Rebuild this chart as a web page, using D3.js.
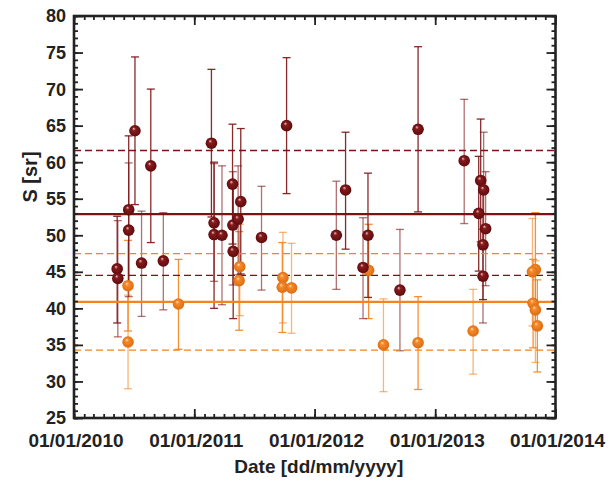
<!DOCTYPE html>
<html>
<head>
<meta charset="utf-8">
<script src="https://cdn.jsdelivr.net/npm/d3@7/dist/d3.min.js"></script>
<style>
html,body{margin:0;padding:0;background:#fff;}
svg{display:block;font-family:"Liberation Sans",Arial,sans-serif;}
</style>
</head>
<body>
<svg id="chart" width="615" height="486"></svg>
<script>
// ---- data ----
const redDates = ["2010-05-12","2010-05-14","2010-06-16","2010-06-16","2010-07-05","2010-07-25","2010-08-22","2010-09-29",
  "2011-02-22","2011-03-02","2011-03-02","2011-03-26","2011-04-27","2011-04-28","2011-04-29","2011-05-14","2011-05-22","2011-07-24",
  "2011-10-08","2012-03-07","2012-04-04","2012-05-27","2012-06-11","2012-09-16","2012-11-10",
  "2013-03-30","2013-05-19","2013-05-28","2013-05-13","2013-06-03","2013-05-26","2013-05-26"];
const redValues = [45.4,44.1,53.5,50.7,64.3,46.2,59.5,46.5,
  62.6,51.7,50.1,50.0,57.0,51.4,47.8,52.2,54.6,49.7,
  65.0,50.0,56.2,45.6,50.0,42.5,64.5,
  60.2,57.5,56.2,53.0,50.9,48.7,44.4];
const redLow = [38.0,36.1,43.3,41.6,54.2,38.9,49.0,39.8,
  52.5,43.7,40.0,40.5,48.8,43.2,38.6,44.6,44.7,42.5,
  55.7,42.6,48.1,38.6,41.5,34.2,53.2,
  51.6,49.1,48.3,45.1,43.1,41.2,38.0];
const redHigh = [52.6,52.0,63.6,59.9,74.4,53.3,70.0,53.1,
  72.7,59.8,60.0,59.5,65.2,58.7,57.0,59.5,64.6,56.7,
  74.3,57.4,64.1,52.4,58.5,50.8,75.8,
  68.6,65.9,64.1,60.8,58.7,56.2,50.8];

const orangeDates = ["2010-06-14","2010-06-14","2010-11-14","2011-05-19","2011-05-17","2011-09-27","2011-09-25","2011-10-23",
  "2012-06-13","2012-07-28","2012-11-10","2013-04-26","2013-11-01","2013-10-23","2013-10-25","2013-11-01","2013-11-07"];
const orangeValues = [43.1,35.4,40.6,45.7,43.8,44.2,42.9,42.8,45.2,35.0,35.3,36.9,45.3,45.0,40.7,39.8,37.6];
const orangeLow = [36.9,29.0,34.4,39.0,37.0,38.0,36.7,36.6,38.6,28.6,28.9,31.0,37.5,37.6,34.6,32.6,31.3];
const orangeHigh = [49.3,41.8,46.7,51.5,50.5,50.4,49.0,48.9,51.5,41.3,41.6,42.6,53.1,52.3,46.7,46.5,43.9];

const redMean = 52.9, redBand = [44.5, 61.6];
const orangeMean = 40.9, orangeBand = [34.3, 47.5];

const xTickDates = ["2010-01-01","2011-01-01","2012-01-01","2013-01-01","2014-01-01"];
const xTickLabels = ["01/01/2010","01/01/2011","01/01/2012","01/01/2013","01/01/2014"];
const yTicks = [25,30,35,40,45,50,55,60,65,70,75,80];

const xTitle = "Date [dd/mm/yyyy]";
const yTitle = "S [sr]";

(function(){
// ---- layout ----
const W = 615, H = 486;
const m = {left:74, right:59.5, top:16, bottom:68};
const svg = d3.select("#chart");
const parse = d3.timeParse("%Y-%m-%d");

const x = d3.scaleTime().domain([parse("2010-01-01"), parse("2014-01-01")]).range([m.left, W - m.right]);
const y = d3.scaleLinear().domain([25, 80]).range([H - m.bottom, m.top]);

const RED = "#7b1214", ORANGE = "#f5841f";

const defs = svg.append("defs");
function sphereGrad(id, light, base, dark){
  const g = defs.append("radialGradient").attr("id", id)
    .attr("cx","50%").attr("cy","50%").attr("r","55%").attr("fx","38%").attr("fy","30%");
  g.append("stop").attr("offset","0%").attr("stop-color", light);
  g.append("stop").attr("offset","28%").attr("stop-color", base);
  g.append("stop").attr("offset","100%").attr("stop-color", dark);
}
sphereGrad("gRed", "#e8c4c4", "#861a1c", "#5a0a0c");
sphereGrad("gOrange", "#ffe0b8", "#f7892a", "#d86a10");

const plot = svg.append("g");

function rows(dates, vals, lo, hi){
  return dates.map((d,i)=>({d:parse(d), v:vals[i], lo:lo[i], hi:hi[i]}));
}
const redData = rows(redDates, redValues, redLow, redHigh);
const orangeData = rows(orangeDates, orangeValues, orangeLow, orangeHigh);

function errorBars(data, color, cls){
  const g = plot.append("g").attr("class", cls).attr("stroke", color).attr("stroke-width", 1.3).attr("fill","none");
  const cap = 4;
  data.forEach((p,i)=>{
    const op = (i % 2 === 0) ? 0.9 : 0.6;
    const gg = g.append("g").attr("stroke-opacity", op);
    gg.append("line").attr("x1", x(p.d)).attr("x2", x(p.d)).attr("y1", y(p.lo)).attr("y2", y(p.hi));
    gg.append("line").attr("x1", x(p.d)-cap).attr("x2", x(p.d)+cap).attr("y1", y(p.lo)).attr("y2", y(p.lo));
    gg.append("line").attr("x1", x(p.d)-cap).attr("x2", x(p.d)+cap).attr("y1", y(p.hi)).attr("y2", y(p.hi));
  });
}
function hline(v, color, width, dash){
  plot.append("line").attr("x1", m.left).attr("x2", W - m.right)
    .attr("y1", y(v)).attr("y2", y(v)).attr("stroke", color).attr("stroke-width", width)
    .attr("stroke-dasharray", dash || null);
}
function points(data, grad){
  plot.append("g").selectAll("circle").data(data).join("circle")
    .attr("cx", d=>x(d.d)).attr("cy", d=>y(d.v)).attr("r", 5.8)
    .attr("fill", `url(#${grad})`);
}

errorBars(orangeData, ORANGE, "eo");
errorBars(redData, RED, "er");

hline(orangeBand[0], ORANGE, 1.3, "7,4");
hline(orangeBand[1], ORANGE, 1.3, "7,4");
hline(redBand[0], RED, 1.3, "7,4");
hline(redBand[1], RED, 1.3, "7,4");
hline(orangeMean, ORANGE, 2.2);
hline(redMean, RED, 2.2);

points(orangeData, "gOrange");
points(redData, "gRed");

// ---- axes (ticks inward on all sides) ----
const majorX = xTickDates.map(parse);
const minorX = x.ticks(d3.timeMonth.every(1));
const minorY = d3.range(25, 81, 1);
const axisCol = "#222";

function styleAxis(g){
  g.select(".domain").remove();
  g.selectAll(".tick line").attr("stroke", axisCol).attr("stroke-width", 1.8);
  g.selectAll("text").remove();
}
const pTop = m.top, pBottom = H - m.bottom, pLeft = m.left, pRight = W - m.right;

svg.append("g").attr("transform",`translate(0,${pBottom})`)
  .call(d3.axisBottom(x).tickValues(minorX).tickSize(-4)).call(styleAxis);
svg.append("g").attr("transform",`translate(0,${pBottom})`)
  .call(d3.axisBottom(x).tickValues(majorX).tickSize(-9)).call(styleAxis);
svg.append("g").attr("transform",`translate(0,${pTop})`)
  .call(d3.axisTop(x).tickValues(minorX).tickSize(-4)).call(styleAxis);
svg.append("g").attr("transform",`translate(0,${pTop})`)
  .call(d3.axisTop(x).tickValues(majorX).tickSize(-9)).call(styleAxis);
svg.append("g").attr("transform",`translate(${pLeft},0)`)
  .call(d3.axisLeft(y).tickValues(minorY).tickSize(-4)).call(styleAxis);
svg.append("g").attr("transform",`translate(${pLeft},0)`)
  .call(d3.axisLeft(y).tickValues(yTicks).tickSize(-9)).call(styleAxis);
svg.append("g").attr("transform",`translate(${pRight},0)`)
  .call(d3.axisRight(y).tickValues(minorY).tickSize(-4)).call(styleAxis);
svg.append("g").attr("transform",`translate(${pRight},0)`)
  .call(d3.axisRight(y).tickValues(yTicks).tickSize(-9)).call(styleAxis);

svg.append("rect").attr("x", pLeft).attr("y", pTop).attr("width", pRight-pLeft).attr("height", pBottom-pTop)
  .attr("fill","none").attr("stroke", axisCol).attr("stroke-width", 2.6);

svg.append("g").selectAll("text").data(yTicks).join("text")
  .attr("x", pLeft - 8).attr("y", d=>y(d)).attr("dy","0.36em")
  .attr("text-anchor","end").attr("font-size", 18).attr("font-weight","bold").attr("fill","#222")
  .text(d=>d);
svg.append("g").selectAll("text").data(majorX).join("text")
  .attr("x", d=>x(d)+2).attr("y", pBottom + 29)
  .attr("text-anchor","middle").attr("font-size", 19).attr("font-weight","bold").attr("fill","#222")
  .text((d,i)=>xTickLabels[i]);

svg.append("text").attr("x", (pLeft+pRight)/2 + 4).attr("y", pBottom + 55)
  .attr("text-anchor","middle").attr("font-size", 19).attr("font-weight","bold").attr("fill","#222")
  .text(xTitle);
svg.append("text").attr("transform", `translate(37,${(pTop+pBottom)/2 - 40}) rotate(-90)`)
  .attr("text-anchor","middle").attr("font-size", 20).attr("font-weight","bold").attr("fill","#222")
  .text(yTitle);
})();
</script>
</body>
</html>
